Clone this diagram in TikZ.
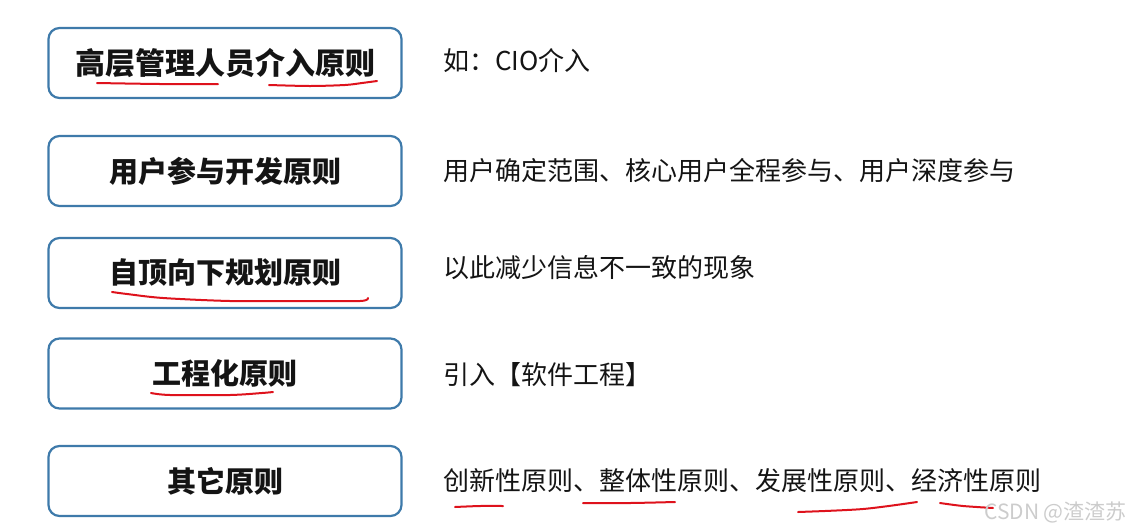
\documentclass[tikz,border=0pt]{standalone}
\usepackage{fontspec}
\newfontfamily\cjk{Noto Sans CJK SC}
\usetikzlibrary{positioning}
\definecolor{boxblue}{RGB}{62,122,170}
\definecolor{penred}{RGB}{222,18,28}
\definecolor{inkblack}{RGB}{20,20,20}

\begin{document}
\begin{tikzpicture}[
  x=1pt, y=-1pt,
  principle/.style={draw=boxblue, line width=2.2pt, rounded corners=11pt, minimum width=353pt, minimum height=70pt, inner sep=0pt, text=inkblack, font=\cjk\bfseries\fontsize{29}{29}\selectfont},
  note/.style={anchor=west, inner sep=0pt, text=inkblack, font=\cjk\fontsize{26}{26}\selectfont},
  ink/.style={penred, line width=2pt, line cap=round}
]
  \useasboundingbox (0,0) rectangle (1130,531);

  % left column
  \node[principle, font=\cjk\bfseries\fontsize{30}{30}\selectfont] (p1) at (225,63) {高层管理人员介入原则};
  \node[principle] (p2) at (225,171) {用户参与开发原则};
  \node[principle] (p3) at (225,273) {自顶向下规划原则};
  \node[principle] (p4) at (225,373.5) {工程化原则};
  \node[principle] (p5) at (225,481) {其它原则};

  % right column
  \node[note] (n1) at (443,61) {如：CIO介入};
  \node[note] (n2) at (443,171) {用户确定范围、核心用户全程参与、用户深度参与};
  \node[note] (n3) at (443,268) {以此减少信息不一致的现象};
  \node[note] (n4) at (443,375) {引入【软件工程】};
  \node[note] (n5) at (443,481) {创新性原则、整体性原则、发展性原则、经济性原则};

  % red pen marks
  \draw[ink] plot[smooth] coordinates {(97,83) (160,84) (218,84)};
  \draw[ink] plot[smooth] coordinates {(269,85) (310,86) (345,85) (362,83) (377,81)};
  \draw[ink] plot[smooth] coordinates {(112,292) (127,294) (163,298) (230,301) (300,301) (360,301) (368,298)};
  \draw[ink] plot[smooth] coordinates {(151,393) (170,395) (230,395) (262,393) (273,392)};
  \draw[ink] plot[smooth] coordinates {(455,507) (480,506) (503,506)};
  \draw[ink] plot[smooth] coordinates {(583,503) (630,503) (675,502)};
  \draw[ink] plot[smooth] coordinates {(798,512) (863,509) (917,502)};
  \draw[ink] plot[smooth] coordinates {(940,503) (963,506) (993,508)};

  % watermark
  \node[anchor=east, inner sep=0pt, text=gray!40, font=\cjk\fontsize{21}{21}\selectfont] (wm) at (1127,512) {CSDN @渣渣苏};
\end{tikzpicture}
\end{document}
